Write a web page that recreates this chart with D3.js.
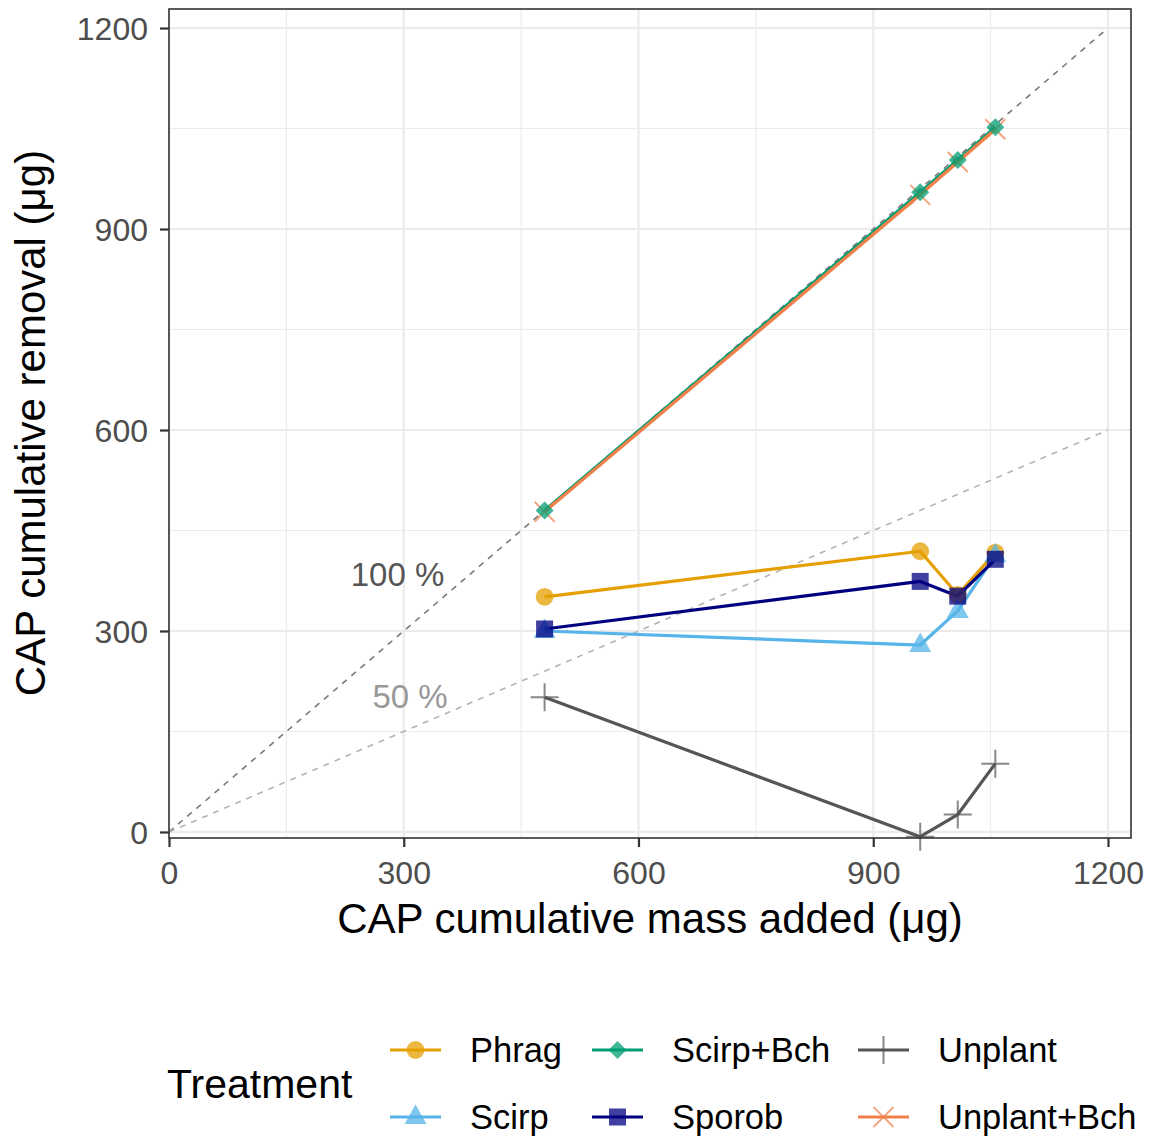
<!DOCTYPE html>
<html><head><meta charset="utf-8">
<script src="https://cdn.jsdelivr.net/npm/d3@7"></script>
<style>body{margin:0;background:#fff;} svg{display:block;font-family:"Liberation Sans",Arial,Helvetica,sans-serif;}</style>
</head><body>
<script>
const treatments = ["Phrag","Scirp","Scirp+Bch","Sporob","Unplant","Unplant+Bch"];
const massAdded = [480, 960, 1008, 1056];
const phrag      = [351, 419, 354, 417];
const scirp      = [300, 279, 330, 413];
const scirpBch   = [480, 955, 1003, 1052];
const sporob     = [303, 374, 352, 407];
const unplant    = [201, -7, 26, 102];
const unplantBch = [478, 951, 1000, 1049];
const seriesValues = [phrag, scirp, scirpBch, sporob, unplant, unplantBch];
const colors = ["#E69F00","#56B4E9","#009E73","#000080","#555555","#F0804A"];
const shapes = ["circle","triangle","diamond","square","plus","cross"];
const xTicks = [0,300,600,900,1200];
const yTicks = [0,300,600,900,1200];
const refLabels = ["100 %","50 %"];
const refSlopes = [1, 0.5];

const W=1152,H=1138;
const svg=d3.select("body").append("svg").attr("width",W).attr("height",H);
const P={l:169,r:1131,t:9,b:838};
const x=d3.scaleLinear().domain([0,1229.4]).range([P.l,P.r]);
const y=d3.scaleLinear().domain([-9,1228.4]).range([P.b,P.t]);

// grid
const g=svg.append("g");
const minorX=[150,450,750,1050], minorY=[150,450,750,1050];
g.selectAll(".mx").data(minorX).join("line").attr("x1",d=>x(d)).attr("x2",d=>x(d)).attr("y1",P.t).attr("y2",P.b).attr("stroke","#ebebeb").attr("stroke-width",1.1);
g.selectAll(".my").data(minorY).join("line").attr("y1",d=>y(d)).attr("y2",d=>y(d)).attr("x1",P.l).attr("x2",P.r).attr("stroke","#ebebeb").attr("stroke-width",1.1);
g.selectAll(".gx").data(xTicks).join("line").attr("x1",d=>x(d)).attr("x2",d=>x(d)).attr("y1",P.t).attr("y2",P.b).attr("stroke","#ebebeb").attr("stroke-width",2.2);
g.selectAll(".gy").data(yTicks).join("line").attr("y1",d=>y(d)).attr("y2",d=>y(d)).attr("x1",P.l).attr("x2",P.r).attr("stroke","#ebebeb").attr("stroke-width",2.2);

// reference lines
const refColors=["#7a7a7a","#b3b3b3"], refLabelColors=["#555555","#999999"];
const refLabelPos=[[292,385],[308,202]];
refSlopes.forEach((s,i)=>{
  svg.append("line").attr("x1",x(0)).attr("y1",y(0)).attr("x2",x(1200)).attr("y2",y(1200*s))
    .attr("stroke",refColors[i]).attr("stroke-width",1.6).attr("stroke-dasharray","6,6");
  svg.append("text").attr("x",x(refLabelPos[i][0])).attr("y",y(refLabelPos[i][1])).attr("text-anchor","middle").attr("dominant-baseline","central").attr("font-size","33px").attr("fill",refLabelColors[i]).text(refLabels[i]);
});

function shapePath(s){
  switch(s){
    case "circle": return d3.symbol(d3.symbolCircle,250)();
    case "square": return "M-8.5,-8.5H8.5V8.5H-8.5Z";
    case "triangle": return "M0,-12.5L11,7L-11,7Z";
    case "diamond": return "M0,-9L9,0L0,9L-9,0Z";
    case "plus": return "M-14,0H14M0,-14V14";
    case "cross": return "M-10,-10L10,10M-10,10L10,-10";
  }
}
function drawSymbol(sel,i){
  const s=shapes[i];
  const p=sel.append("path").attr("d",shapePath(s));
  if(s==="plus"||s==="cross") p.attr("fill","none").attr("stroke",colors[i]).attr("stroke-width",2).attr("stroke-opacity",0.7);
  else p.attr("fill",colors[i]).attr("fill-opacity",0.75);
}

const line=d3.line().x(d=>x(d[0])).y(d=>y(d[1]));
const order=[0,1,3,4,2,5];
order.forEach(i=>{
  const pts=massAdded.map((m,k)=>[m,seriesValues[i][k]]);
  svg.append("path").attr("d",line(pts)).attr("fill","none").attr("stroke",colors[i]).attr("stroke-width",3.2).attr("stroke-linejoin","round");
});
[5,2,0,1,3,4].forEach(i=>{
  massAdded.forEach((m,k)=>{
    const gg=svg.append("g").attr("transform",`translate(${x(m)},${y(seriesValues[i][k])})`);
    drawSymbol(gg,i);
  });
});

svg.append("rect").attr("x",P.l).attr("y",P.t).attr("width",P.r-P.l).attr("height",P.b-P.t).attr("fill","none").attr("stroke","#333333").attr("stroke-width",1.6);

const fmt=d3.format("d");
const xa=svg.append("g").attr("transform",`translate(0,${P.b})`).call(d3.axisBottom(x).tickValues(xTicks).tickFormat(fmt).tickSize(9).tickPadding(14));
const ya=svg.append("g").attr("transform",`translate(${P.l},0)`).call(d3.axisLeft(y).tickValues(yTicks).tickFormat(fmt).tickSize(9).tickPadding(12));
[xa,ya].forEach(a=>{a.select(".domain").remove();a.selectAll("line").attr("stroke","#333333").attr("stroke-width",2.2);a.selectAll("text").attr("fill","#4d4d4d").attr("font-size","32px").attr("font-family","Liberation Sans, Arial, sans-serif");});
ya.selectAll("text").attr("dy","0.35em");

svg.append("text").attr("x",650).attr("y",918).attr("text-anchor","middle").attr("dominant-baseline","central").attr("font-size","42px").attr("fill","#000").text("CAP cumulative mass added (μg)");
svg.append("text").attr("transform","translate(30,423) rotate(-90)").attr("text-anchor","middle").attr("dominant-baseline","central").attr("font-size","42px").attr("fill","#000").text("CAP cumulative removal (μg)");

svg.append("text").attr("x",167).attr("y",1084).attr("dominant-baseline","central").attr("font-size","41px").attr("fill","#000").text("Treatment");
const legendOrder=[0,2,4,1,3,5];
const colX=[390,592,858], rowY=[1050,1117], labelOff=80;
legendOrder.forEach((i,j)=>{
  const c=j%3, r=Math.floor(j/3);
  const kx=colX[c], ky=rowY[r];
  svg.append("line").attr("x1",kx).attr("x2",kx+51).attr("y1",ky).attr("y2",ky).attr("stroke",colors[i]).attr("stroke-width",3.2);
  const gg=svg.append("g").attr("transform",`translate(${kx+25.5},${ky})`);
  drawSymbol(gg,i);
  svg.append("text").attr("x",kx+labelOff).attr("y",ky).attr("dominant-baseline","central").attr("font-size","34.5px").attr("fill","#000").text(treatments[i]);
});
</script>
</body></html>
